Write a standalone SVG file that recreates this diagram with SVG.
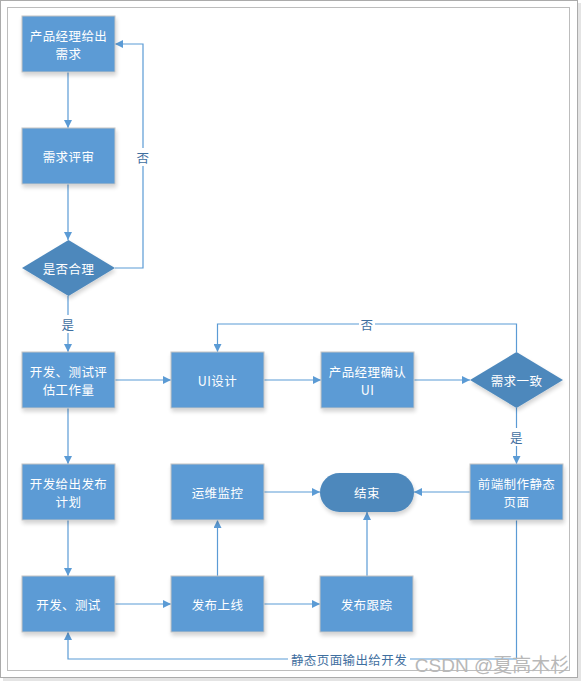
<svg xmlns="http://www.w3.org/2000/svg" width="584" height="683" viewBox="0 0 584 683">
<style>
.box{fill:#5B9BD5;stroke:#C4C4C4;stroke-width:1;filter:url(#sh)}
.dia{fill:#4D88BC;stroke:none;filter:url(#sh)}
.t{font-family:"Noto Sans CJK SC","Liberation Sans",sans-serif;font-size:12.5px;letter-spacing:0.4px;fill:#FFFFFF;text-anchor:middle;dominant-baseline:central}
.lbl{font-family:"Noto Sans CJK SC","Liberation Sans",sans-serif;font-size:12.5px;letter-spacing:0.4px;fill:#3F6F9F;text-anchor:middle;dominant-baseline:central}
.ln{fill:none;stroke:#5B9BD5;stroke-width:1.2;marker-end:url(#ah)}
</style>
<defs>
<marker id="ah" viewBox="0 0 10 10" refX="10" refY="5" markerWidth="8" markerHeight="8" markerUnits="userSpaceOnUse" orient="auto">
<path d="M0,0 L10,5 L0,10 Z" fill="#5B9BD5"/>
</marker>
<filter id="sh" x="-20%" y="-20%" width="140%" height="150%">
<feGaussianBlur in="SourceAlpha" stdDeviation="2"/>
<feOffset dx="1" dy="3" result="b"/>
<feComponentTransfer><feFuncA type="linear" slope="0.18"/></feComponentTransfer>
<feMerge><feMergeNode/><feMergeNode in="SourceGraphic"/></feMerge>
</filter>
</defs>
<rect x="0" y="0" width="584" height="683" fill="#FFFFFF"/>
<rect x="3" y="3" width="578" height="678" fill="#E4E4E4"/>
<rect x="0.5" y="0.5" width="577" height="677" fill="#FFFFFF" stroke="#ABABAB"/>
<rect x="7.5" y="7.5" width="562" height="663" fill="#FFFFFF" stroke="#BDBDBD"/>

<g id="connectors">
<path class="ln" d="M68,72 V128"/>
<path class="ln" d="M68,184 V240"/>
<path class="ln" d="M115,268 H143 V44 H115"/>
<path class="ln" d="M68,296 V352"/>
<path class="ln" d="M115,380 H171"/>
<path class="ln" d="M264,380 H321"/>
<path class="ln" d="M414,380 H470"/>
<path class="ln" d="M516.5,352 V324 H217.5 V352"/>
<path class="ln" d="M516.5,408 V464"/>
<path class="ln" d="M68,408 V464"/>
<path class="ln" d="M68,520 V576"/>
<path class="ln" d="M115,604 H171"/>
<path class="ln" d="M264,604 H320"/>
<path class="ln" d="M217.5,576 V520"/>
<path class="ln" d="M367,576 V512"/>
<path class="ln" d="M264,492 H320"/>
<path class="ln" d="M470,492 H414"/>
<path class="ln" d="M516.5,520 V659 H68 V632"/>
<rect x="136" y="148" width="14" height="18" fill="#FFFFFF"/>
<text class="lbl" x="143" y="157">否</text>
<rect x="60" y="315" width="16" height="18" fill="#FFFFFF"/>
<text class="lbl" x="68" y="324">是</text>
<rect x="359" y="315" width="16" height="18" fill="#FFFFFF"/>
<text class="lbl" x="367" y="324">否</text>
<rect x="508" y="428" width="16" height="18" fill="#FFFFFF"/>
<text class="lbl" x="516.5" y="437">是</text>
<rect x="288" y="650" width="122" height="18" fill="#FFFFFF"/>
<text class="lbl" x="349" y="659">静态页面输出给开发</text>
</g>

<g id="n1"><rect class="box" x="22" y="16" width="93" height="56"/><text class="t" x="68.5" y="35">产品经理给出</text><text class="t" x="68.5" y="53">需求</text></g>
<g id="n2"><rect class="box" x="22" y="128" width="93" height="56"/><text class="t" x="68.5" y="156">需求评审</text></g>
<g id="n3"><polygon class="dia" points="68.5,240 115,268 68.5,296 22,268"/><text class="t" x="68.5" y="268">是否合理</text></g>
<g id="n4"><rect class="box" x="22" y="352" width="93" height="56"/><text class="t" x="68.5" y="371">开发、测试评</text><text class="t" x="68.5" y="389">估工作量</text></g>
<g id="n5"><rect class="box" x="171" y="352" width="93" height="56"/><text class="t" x="217.5" y="380">UI设计</text></g>
<g id="n6"><rect class="box" x="321" y="352" width="93" height="56"/><text class="t" x="367.5" y="371">产品经理确认</text><text class="t" x="367.5" y="389">UI</text></g>
<g id="n7"><polygon class="dia" points="516.5,352 563,380 516.5,408 470,380"/><text class="t" x="516.5" y="380">需求一致</text></g>
<g id="n8"><rect class="box" x="22" y="464" width="93" height="56"/><text class="t" x="68.5" y="483">开发给出发布</text><text class="t" x="68.5" y="501">计划</text></g>
<g id="n9"><rect class="box" x="171" y="464" width="93" height="56"/><text class="t" x="217.5" y="492">运维监控</text></g>
<g id="n10"><rect class="dia" x="320" y="473" width="94" height="39" rx="19.5"/><text class="t" x="367" y="492">结束</text></g>
<g id="n11"><rect class="box" x="470" y="464" width="93" height="56"/><text class="t" x="516.5" y="483">前端制作静态</text><text class="t" x="516.5" y="501">页面</text></g>
<g id="n12"><rect class="box" x="22" y="576" width="93" height="56"/><text class="t" x="68.5" y="604">开发、测试</text></g>
<g id="n13"><rect class="box" x="171" y="576" width="93" height="56"/><text class="t" x="217.5" y="604">发布上线</text></g>
<g id="n14"><rect class="box" x="320" y="576" width="93" height="56"/><text class="t" x="366.5" y="604">发布跟踪</text></g>

<text x="492" y="665" font-family="Liberation Sans,'Noto Sans CJK SC',sans-serif" font-size="19" fill="#B8B8B8" text-anchor="middle" dominant-baseline="central">CSDN @夏高木杉</text>
</svg>
